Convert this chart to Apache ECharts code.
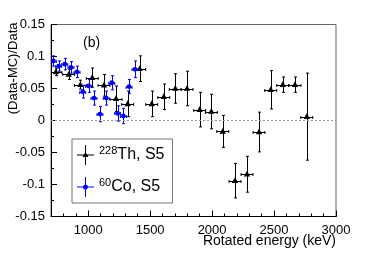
<!DOCTYPE html>
<html><head><meta charset="utf-8">
<script src="https://cdn.jsdelivr.net/npm/echarts@6/dist/echarts.min.js"></script>
<style>html,body{margin:0;padding:0;background:#fff}#c{width:374px;height:253px}</style>
</head><body><div id="c"></div>
<script>
// 228Th, S5 (black triangles)
const thX    = [740, 843, 937, 1033, 1128, 1225, 1319, 1416, 1513, 1610, 1703, 1798, 1900, 1994, 2086, 2185, 2282, 2379, 2473, 2570, 2669, 2764];
const thY    = [0.076, 0.072, 0.056, 0.067, 0.055, 0.034, 0.026, 0.081, 0.026, 0.037, 0.050, 0.050, 0.017, 0.014, -0.017, -0.094, -0.084, -0.018, 0.048, 0.056, 0.056, 0.006];
const thXErr = [48, 48, 48, 48, 48, 48, 48, 48, 48, 48, 48, 48, 48, 48, 48, 48, 48, 48, 48, 48, 48, 48];
const thYErr = [0.006, 0.008, 0.007, 0.015, 0.017, 0.020, 0.020, 0.020, 0.020, 0.020, 0.023, 0.027, 0.027, 0.027, 0.025, 0.027, 0.028, 0.031, 0.030, 0.012, 0.012, 0.068];
// 60Co, S5 (blue points)
const coX    = [719, 762, 811, 861, 910, 956, 1004, 1047, 1095, 1146, 1190, 1238, 1284, 1330, 1378];
const coY    = [0.093, 0.085, 0.088, 0.083, 0.076, 0.045, 0.054, 0.035, 0.010, 0.035, 0.059, 0.011, 0.007, 0.053, 0.080];
const coXErr = [24, 24, 24, 24, 24, 24, 24, 24, 24, 24, 24, 24, 24, 24, 24];
const coYErr = [0.008, 0.008, 0.009, 0.009, 0.009, 0.010, 0.010, 0.011, 0.012, 0.011, 0.011, 0.012, 0.012, 0.011, 0.013];
// axis ticks
const xTickLabels = [1000, 1500, 2000, 2500, 3000];
const legendSup  = ['228', '60'];
const legendMain = ['Th, S5', 'Co, S5'];
const seriesNames = ['th228', 'co60'];

const FONT = '"Liberation Sans", Arial, Helvetica, sans-serif';

function zip(a, b, c, d) { return a.map((v, i) => [v, b[i], c[i], d[i]]); }

function makeRender(color, marker) {
  return function (params, api) {
    const x = api.value(0), y = api.value(1), ex = api.value(2), ey = api.value(3);
    const c = api.coord([x, y]);
    const l = api.coord([x - ex, y]), r = api.coord([x + ex, y]);
    const t = api.coord([x, y + ey]), b = api.coord([x, y - ey]);
    const px = Math.round(c[0]) + 0.5, py = Math.round(c[1]) + 0.5;
    const ls = { stroke: color, lineWidth: 1 };
    const cap = 1.5;
    const ch = [
      { type: 'line', shape: { x1: l[0], y1: py, x2: r[0], y2: py }, style: ls },
      { type: 'line', shape: { x1: px, y1: t[1], x2: px, y2: b[1] }, style: ls },
      { type: 'line', shape: { x1: px - cap, y1: t[1], x2: px + cap, y2: t[1] }, style: ls },
      { type: 'line', shape: { x1: px - cap, y1: b[1], x2: px + cap, y2: b[1] }, style: ls },
      { type: 'line', shape: { x1: l[0], y1: py - cap, x2: l[0], y2: py + cap }, style: ls },
      { type: 'line', shape: { x1: r[0], y1: py - cap, x2: r[0], y2: py + cap }, style: ls }
    ];
    if (marker === 'tri') {
      ch.push({ type: 'polygon', shape: { points: [[c[0], c[1] - 3.5], [c[0] - 3.2, c[1] + 2.3], [c[0] + 3.2, c[1] + 2.3]] }, style: { fill: color } });
    } else {
      ch.push({ type: 'circle', shape: { cx: c[0], cy: c[1], r: 2.4 }, style: { fill: color } });
    }
    return { type: 'group', children: ch };
  };
}

const triIcon = 'path://M0,9.5L17,9.5L17,10.5L0,10.5Z M8,0L9,0L9,20L8,20Z M8.5,7L11.5,12L5.5,12Z';
const dotIcon = 'path://M0,9.5L17,9.5L17,10.5L0,10.5Z M8,0L9,0L9,20L8,20Z M8.5,7.5A2.5,2.5 0 1 1 8.49,7.5Z';

const chart = echarts.init(document.getElementById('c'), null, { renderer: 'canvas' });
chart.setOption({
  animation: false,
  backgroundColor: '#fff',
  textStyle: { fontFamily: FONT },
  grid: { left: 51, right: 38, top: 24.5, bottom: 36.5, show: true, borderColor: '#666', borderWidth: 1, backgroundColor: 'transparent', outerBoundsMode: 'none', containLabel: false },
  xAxis: [{
    type: 'value', min: 700, max: 3000, interval: 100,
    axisLine: { show: true, onZero: false, lineStyle: { color: '#000', width: 1 } },
    axisTick: { show: true, inside: true, length: 6, customValues: xTickLabels, lineStyle: { color: '#000' } },
    axisLabel: { show: true, customValues: xTickLabels, fontSize: 13, color: '#000', margin: 7, fontFamily: FONT, formatter: function (v) { return String(v); } },
    splitLine: { show: false },
    name: 'Rotated energy (keV)', nameLocation: 'end', nameGap: 0, nameMoveOverlap: false,
    nameTextStyle: { fontSize: 14, color: '#000', align: 'right', verticalAlign: 'top', padding: [18, 0, 0, 0], fontFamily: FONT }
  }, {
    type: 'value', min: 700, max: 3000, interval: 100, position: 'bottom',
    axisLine: { show: false, onZero: false },
    axisTick: { show: true, inside: true, length: 3, lineStyle: { color: '#000' } },
    axisLabel: { show: false }, splitLine: { show: false }
  }],
  yAxis: {
    type: 'value', min: -0.15, max: 0.15, interval: 0.05,
    axisLine: { show: true, onZero: false, lineStyle: { color: '#000', width: 1 } },
    axisTick: { show: true, inside: true, length: 6, lineStyle: { color: '#000' } },
    minorTick: { show: true, splitNumber: 2, length: 3, lineStyle: { color: '#000' } },
    axisLabel: { fontSize: 13, color: '#000', margin: 6, fontFamily: FONT },
    splitLine: { show: false }, minorSplitLine: { show: false },
    name: '(Data-MC)/Data', nameLocation: 'end', nameRotate: 90, nameGap: 2, nameMoveOverlap: false,
    nameTextStyle: { fontSize: 13, color: '#000', align: 'right', verticalAlign: 'bottom', padding: [0, 0, 31, 0], fontFamily: FONT }
  },
  legend: {
    orient: 'vertical', left: 72, top: 139, padding: [6, 8, 6, 5], itemGap: 12,
    itemWidth: 17, itemHeight: 20, borderColor: '#777', borderWidth: 1, backgroundColor: '#fff',
    selectedMode: false,
    data: [{ name: seriesNames[0], icon: triIcon }, { name: seriesNames[1], icon: dotIcon }],
    formatter: function (n) { const i = seriesNames.indexOf(n); return '{sup|' + legendSup[i] + '}{main|' + legendMain[i] + '}'; },
    textStyle: {
      fontFamily: FONT, color: '#000',
      rich: {
        sup: { fontSize: 11, color: '#000', fontFamily: FONT, verticalAlign: 'top', lineHeight: 12 },
        main: { fontSize: 16, color: '#000', fontFamily: FONT, lineHeight: 20 }
      }
    }
  },
  graphic: [{ type: 'text', left: 83, top: 36, style: { text: '(b)', fontSize: 14, fill: '#000', fontFamily: FONT } }],
  series: [{
    name: seriesNames[0], type: 'custom', xAxisIndex: 0, yAxisIndex: 0, clip: true,
    itemStyle: { color: '#000' },
    renderItem: makeRender('#000', 'tri'),
    encode: { x: 0, y: 1 },
    data: zip(thX, thY, thXErr, thYErr),
    markLine: { silent: true, symbol: 'none', label: { show: false }, data: [{ yAxis: 0 }], lineStyle: { type: [2, 2], color: '#999', width: 1 } },
    z: 3
  }, {
    name: seriesNames[1], type: 'custom', xAxisIndex: 0, yAxisIndex: 0, clip: true,
    itemStyle: { color: '#0000ff' },
    renderItem: makeRender('#0000ff', 'dot'),
    encode: { x: 0, y: 1 },
    data: zip(coX, coY, coXErr, coYErr),
    z: 4
  }]
});
</script></body></html>
